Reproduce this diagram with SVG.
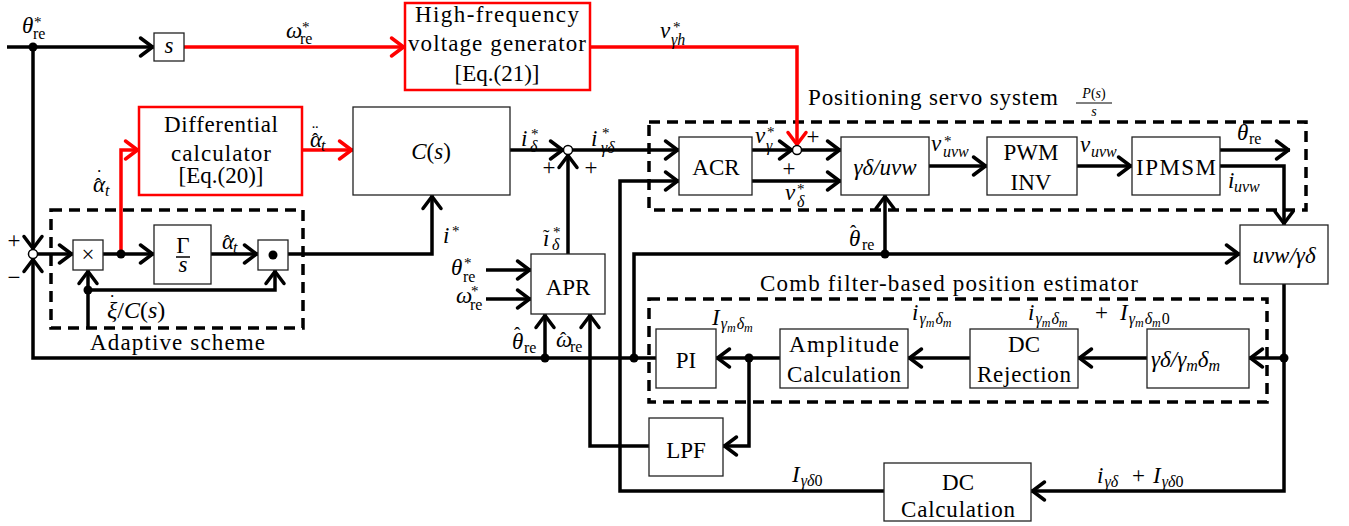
<svg xmlns="http://www.w3.org/2000/svg" width="1349" height="526" viewBox="0 0 1349 526" font-family="'Liberation Serif', 'Times New Roman', serif">
<style>
text{font-family:"Liberation Serif","Times New Roman",serif;fill:#000}
.t{font-size:23px;text-anchor:middle}
.l{font-size:23px}
.m{font-size:23px;font-style:italic}
.s{font-size:15px;font-style:normal}
.r{font-size:16px;font-style:normal}
.mi{font-size:16px;font-style:italic}
.sub{font-size:16px}
.ss{font-size:12px}
.acc{font-size:19px;font-style:normal}
.box{fill:#fff;stroke:#222;stroke-width:1.3}
.rbox{fill:#fff;stroke:#f00;stroke-width:2.5}
.dash{fill:none;stroke:#000;stroke-width:3.5;stroke-dasharray:11 7}
.w{fill:none;stroke:#000;stroke-width:3.5;marker-end:url(#ah)}
.rw{fill:none;stroke:#f00;stroke-width:3.5;marker-end:url(#rah)}
.dot{fill:#000}
.sum{fill:#fff;stroke:#000;stroke-width:1.5}
</style>
<defs>
<marker id="ah" viewBox="-16 -12 20 24" refX="0" refY="0" markerWidth="20" markerHeight="24" markerUnits="userSpaceOnUse" orient="auto">
<path d="M-13.5,-9 L-1.5,0 L-13.5,9" fill="none" stroke="#000" stroke-width="3.5" stroke-linecap="round" stroke-linejoin="round"/>
</marker>
<marker id="rah" viewBox="-16 -12 20 24" refX="0" refY="0" markerWidth="20" markerHeight="24" markerUnits="userSpaceOnUse" orient="auto">
<path d="M-13.5,-9 L-1.5,0 L-13.5,9" fill="none" stroke="#f00" stroke-width="3.5" stroke-linecap="round" stroke-linejoin="round"/>
</marker>
</defs>
<rect width="1349" height="526" fill="#fff"/>

<!-- dashed groupings -->
<g id="adaptive-scheme">
<rect class="dash" x="51" y="210" width="252" height="118"/>
<text class="l" x="90" y="350" textLength="175">Adaptive scheme</text>
</g>
<g id="servo-system">
<rect class="dash" x="649" y="122" width="657" height="88"/>
<text class="l" x="808" y="105" textLength="250">Positioning servo system</text>
<text x="1094" y="98" font-size="14" text-anchor="middle"><tspan font-style="italic">P</tspan>(<tspan font-style="italic">s</tspan>)</text>
<line x1="1076" y1="103" x2="1112" y2="103" stroke="#000" stroke-width="1"/>
<text x="1094" y="116" font-size="14" font-style="italic" text-anchor="middle">s</text>
</g>
<g id="comb-estimator">
<rect class="dash" x="649" y="299" width="618" height="103"/>
<text class="l" x="760" y="291" textLength="378">Comb filter-based position estimator</text>
</g>

<!-- connectors -->
<g id="connectors">
<path class="w" d="M7 47 H154"/>
<path class="w" d="M33 47 V250"/>
<path class="w" d="M656 358 H33 V258"/>
<path class="w" d="M37 254 H73"/>
<path class="w" d="M103 254 H154"/>
<path class="w" d="M211 254 H258"/>
<path class="w" d="M288 254 H432 V195"/>
<path class="w" d="M88 328 V270"/>
<path class="w" d="M88 290 H275 V270"/>
<path class="rw" d="M121 254 V150 H139"/>
<path class="rw" d="M302 150 H353"/>
<path class="rw" d="M184 47 H405"/>
<path class="rw" d="M590 47 H797 V146"/>
<path class="w" d="M510 150 H564"/>
<path class="w" d="M568 254 V154"/>
<path class="w" d="M572 150 H679"/>
<path class="w" d="M752 150 H793"/>
<path class="w" d="M801 150 H841"/>
<path class="w" d="M752 181 H841"/>
<path class="w" d="M929 166 H987"/>
<path class="w" d="M1077 166 H1132"/>
<path class="w" d="M1220 150 H1290"/>
<path class="w" d="M1220 166 H1284 V225"/>
<path class="w" d="M1284 284 V491 H1031"/>
<path class="w" d="M1284 358 H1249"/>
<path class="w" d="M1147 358 H1078"/>
<path class="w" d="M970 358 H908"/>
<path class="w" d="M780 358 H716"/>
<path class="w" d="M749 358 V446 H723"/>
<path class="w" d="M649 446 H590 V314"/>
<path class="w" d="M545 358 V314"/>
<path class="w" d="M634 358 V254 H1240"/>
<path class="w" d="M885 254 V195"/>
<path class="w" d="M884 491 H620 V181 H679"/>
<path class="w" d="M486 270 H531"/>
<path class="w" d="M486 299 H531"/>
<circle class="dot" cx="33" cy="47" r="4.5"/>
<circle class="dot" cx="121" cy="254" r="4.5"/>
<circle class="dot" cx="88" cy="290" r="4.5"/>
<circle class="dot" cx="545" cy="358" r="4.5"/>
<circle class="dot" cx="634" cy="358" r="4.5"/>
<circle class="dot" cx="749" cy="358" r="4.5"/>
<circle class="dot" cx="885" cy="254" r="4.5"/>
<circle class="dot" cx="1284" cy="358" r="4.5"/>
</g>

<!-- summing junctions -->
<g id="sum1"><circle class="sum" cx="33" cy="254" r="4.5"/>
<text class="t" x="14" y="248" font-size="22">+</text>
<text class="t" x="14" y="285" font-size="22">−</text></g>
<g id="sum2"><circle class="sum" cx="568" cy="150" r="4.5"/>
<text class="t" x="549" y="175">+</text>
<text class="t" x="591" y="175">+</text></g>
<g id="sum3"><circle class="sum" cx="797" cy="150" r="4.5"/>
<text class="t" x="813" y="144">+</text>
<text class="t" x="789" y="176">+</text></g>

<!-- nodes -->
<g id="s-block"><rect class="box" x="154" y="33" width="30" height="28"/>
<text class="t m" x="169" y="53">s</text></g>
<g id="hf-generator"><rect class="rbox" x="405" y="3" width="185" height="87"/>
<text class="t" x="497" y="22" textLength="164">High-frequency</text>
<text class="t" x="497" y="51" textLength="178">voltage generator</text>
<text class="t" x="497" y="81">[Eq.(21)]</text></g>
<g id="differential-calculator"><rect class="rbox" x="139" y="107" width="163" height="88"/>
<text class="t" x="221" y="132" textLength="114">Differential</text>
<text class="t" x="221" y="161" textLength="100">calculator</text>
<text class="t" x="221" y="183">[Eq.(20)]</text></g>
<g id="Cs"><rect class="box" x="353" y="107" width="157" height="88"/>
<text class="t" x="431" y="159" font-size="24"><tspan font-style="italic">C</tspan>(<tspan font-style="italic">s</tspan>)</text></g>
<g id="mult"><rect class="box" x="73" y="240" width="30" height="30"/>
<text class="t" x="88" y="262" font-size="22">×</text></g>
<g id="gamma-over-s"><rect class="box" x="154" y="225" width="57" height="59"/>
<text class="t" x="183" y="253" font-size="17">Γ</text>
<line x1="176" y1="257" x2="190" y2="257" stroke="#000" stroke-width="1.5"/>
<text class="t m" x="183" y="272" font-size="17">s</text></g>
<g id="dot-product"><rect class="box" x="258" y="240" width="30" height="30"/>
<circle cx="273" cy="255" r="4.5" fill="#000"/></g>
<g id="APR"><rect class="box" x="531" y="254" width="74" height="60"/>
<text class="t" x="568" y="295">APR</text></g>
<g id="ACR"><rect class="box" x="679" y="137" width="73" height="58"/>
<text class="t" x="716" y="175">ACR</text></g>
<g id="gd-uvw"><rect class="box" x="841" y="137" width="88" height="58"/>
<text class="t m" x="885" y="175" font-size="26">γδ/uvw</text></g>
<g id="PWM-INV"><rect class="box" x="987" y="137" width="90" height="58"/>
<text class="t" x="1031" y="160">PWM</text>
<text class="t" x="1031" y="190">INV</text></g>
<g id="IPMSM"><rect class="box" x="1132" y="137" width="88" height="58"/>
<text class="t" x="1176" y="175" textLength="80">IPMSM</text></g>
<g id="uvw-gd"><rect class="box" x="1240" y="225" width="88" height="59"/>
<text class="t m" x="1284" y="263" font-size="26">uvw/γδ</text></g>
<g id="PI"><rect class="box" x="656" y="329" width="60" height="59"/>
<text class="t" x="686" y="368">PI</text></g>
<g id="amplitude-calc"><rect class="box" x="780" y="329" width="128" height="59"/>
<text class="t" x="844" y="352" textLength="110">Amplitude</text>
<text class="t" x="844" y="382" textLength="114">Calculation</text></g>
<g id="dc-rejection"><rect class="box" x="970" y="329" width="108" height="59"/>
<text class="t" x="1024" y="352">DC</text>
<text class="t" x="1024" y="382" textLength="94">Rejection</text></g>
<g id="gd-gmdm"><rect class="box" x="1147" y="329" width="102" height="59"/>
<text class="m" x="1151" y="367" font-size="25">γδ/γ<tspan class="sub" dy="4">m</tspan><tspan dy="-4">δ</tspan><tspan class="sub" dy="4">m</tspan></text></g>
<g id="LPF"><rect class="box" x="649" y="418" width="74" height="58"/>
<text class="t" x="686" y="458">LPF</text></g>
<g id="dc-calc"><rect class="box" x="884" y="463" width="147" height="58"/>
<text class="t" x="958" y="490">DC</text>
<text class="t" x="958" y="517" textLength="114">Calculation</text></g>

<!-- signal labels -->
<g id="labels">
<text class="m" x="22" y="33">θ<tspan class="s" x="34" y="27">*</tspan><tspan class="r" x="33" y="39">re</tspan></text>
<text class="m" x="286" y="38">ω<tspan class="s" x="302" y="32">*</tspan><tspan class="r" x="300" y="44">re</tspan></text>
<text class="m" x="660" y="38">v<tspan class="s" x="673" y="32">*</tspan><tspan class="mi" x="671" y="45">γh</tspan></text>
<text class="m" x="93" y="192">α<tspan class="acc" x="95" y="191">ˆ</tspan><tspan class="acc" x="96" y="183">˙</tspan><tspan class="mi" x="105" y="196">t</tspan></text>
<text class="m" x="310" y="147">α<tspan class="acc" x="312" y="146">ˆ</tspan><tspan class="acc" x="312" y="138">¨</tspan><tspan class="mi" x="321" y="151">t</tspan></text>
<text class="m" x="222" y="249">α<tspan class="acc" x="224" y="248">ˆ</tspan><tspan class="mi" x="233" y="253">t</tspan></text>
<text x="107" y="318" font-size="24"><tspan font-style="italic">ξ</tspan>/<tspan font-style="italic">C</tspan>(<tspan font-style="italic">s</tspan>)<tspan class="acc" x="109" y="308">˙</tspan></text>
<text class="m" x="443" y="243">i<tspan class="s" x="452" y="236">*</tspan></text>
<text class="m" x="521" y="146">i<tspan class="s" x="531" y="139">*</tspan><tspan class="mi" x="530" y="152">δ</tspan></text>
<text class="m" x="591" y="146">i<tspan class="s" x="602" y="138">*</tspan><tspan class="mi" x="601" y="153">γδ</tspan></text>
<text class="m" x="543" y="246">ı<tspan class="acc" x="543" y="243">˜</tspan><tspan class="s" x="553" y="237">*</tspan><tspan class="mi" x="552" y="250">δ</tspan></text>
<text class="m" x="451" y="275">θ<tspan class="s" x="464" y="268">*</tspan><tspan class="r" x="463" y="282">re</tspan></text>
<text class="m" x="456" y="303">ω<tspan class="s" x="471" y="296">*</tspan><tspan class="r" x="470" y="310">re</tspan></text>
<text class="m" x="512" y="349">θ<tspan class="acc" x="514" y="340">ˆ</tspan><tspan class="r" x="524" y="353">re</tspan></text>
<text class="m" x="556" y="347">ω<tspan class="acc" x="560" y="345">ˆ</tspan><tspan class="r" x="570" y="352">re</tspan></text>
<text class="m" x="849" y="246">θ<tspan class="acc" x="850" y="238">ˆ</tspan><tspan class="r" x="862" y="250">re</tspan></text>
<text class="m" x="755" y="143">v<tspan class="s" x="767" y="137">*</tspan><tspan class="mi" x="766" y="151">γ</tspan></text>
<text class="m" x="785" y="200">v<tspan class="s" x="797" y="194">*</tspan><tspan class="mi" x="797" y="207">δ</tspan></text>
<text class="m" x="931" y="151">v<tspan class="s" x="944" y="146">*</tspan><tspan class="mi" x="943" y="157" font-size="17">uvw</tspan></text>
<text class="m" x="1080" y="152">v<tspan class="mi" x="1091" y="157" font-size="17">uvw</tspan></text>
<text class="m" x="1237" y="140">θ<tspan class="r" x="1249" y="144">re</tspan></text>
<text class="m" x="1228" y="188">i<tspan class="mi" x="1234" y="192" font-size="17">uvw</tspan></text>
<text class="m" x="712" y="325">I<tspan class="sub" dy="4" dx="1">γ</tspan><tspan class="ss" dy="3">m</tspan><tspan class="sub" dy="-3" dx="1">δ</tspan><tspan class="ss" dy="3">m</tspan></text>
<text class="m" x="912" y="320">i<tspan class="sub" dy="4" dx="1">γ</tspan><tspan class="ss" dy="3">m</tspan><tspan class="sub" dy="-3" dx="1">δ</tspan><tspan class="ss" dy="3">m</tspan></text>
<text class="m" x="1028" y="320">i<tspan class="sub" dy="4" dx="1">γ</tspan><tspan class="ss" dy="3">m</tspan><tspan class="sub" dy="-3" dx="1">δ</tspan><tspan class="ss" dy="3">m</tspan><tspan x="1095" y="320" font-style="normal">+</tspan><tspan x="1120">I</tspan><tspan class="sub" dy="4" dx="1">γ</tspan><tspan class="ss" dy="3">m</tspan><tspan class="sub" dy="-3" dx="1">δ</tspan><tspan class="ss" dy="3">m</tspan><tspan class="sub" dy="-3" dx="1" font-style="normal">0</tspan></text>
<text class="m" x="1097" y="483">i<tspan class="sub" dy="4" dx="1">γδ</tspan><tspan x="1132" y="483" font-style="normal">+</tspan><tspan x="1153">I</tspan><tspan class="sub" dy="4" dx="1">γδ</tspan><tspan class="sub" font-style="normal">0</tspan></text>
<text class="m" x="792" y="482">I<tspan class="sub" dy="4" dx="1">γδ</tspan><tspan class="sub" font-style="normal">0</tspan></text>
</g>
</svg>
